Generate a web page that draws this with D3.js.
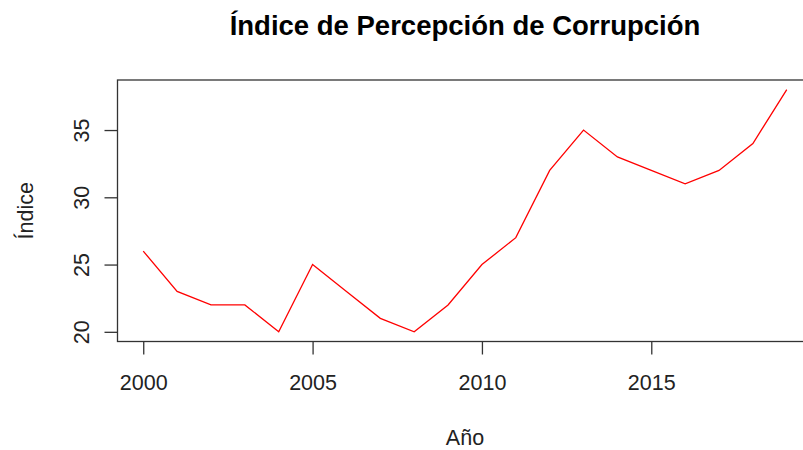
<!DOCTYPE html>
<html>
<head>
<meta charset="utf-8">
<script src="https://cdn.jsdelivr.net/npm/d3@7"></script>
<style>
  body { margin: 0; background: #fff; overflow: hidden; }
  text { font-family: "Liberation Sans", Arial, sans-serif; fill: #222; }
</style>
</head>
<body>
<div id="chart"></div>
<script>
// data
var years = [2000, 2001, 2002, 2003, 2004, 2005, 2006, 2007, 2008, 2009,
             2010, 2011, 2012, 2013, 2014, 2015, 2016, 2017, 2018, 2019];
var indice = [26, 23, 22, 22, 20, 25, 23, 21, 20, 22,
              25, 27, 32, 35, 33, 32, 31, 32, 34, 38];
var xTicks = [2000, 2005, 2010, 2015];
var yTicks = [20, 25, 30, 35];

var svgWidth = 803;
var svgHeight = 450;

// plot box (right edge falls outside the window, like the original)
var box = { left: 117.5, right: 812.5, top: 80, bottom: 341.5 };

var svg = d3.select('#chart')
  .append('svg')
  .attr('width', svgWidth)
  .attr('height', svgHeight);

// R style 4% padding on both axes
var xPad = (d3.max(years) - d3.min(years)) * 0.04;
var yPad = (d3.max(indice) - d3.min(indice)) * 0.04;

var xScale = d3.scaleLinear()
  .domain([d3.min(years) - xPad, d3.max(years) + xPad])
  .range([box.left, box.right]);

var yScale = d3.scaleLinear()
  .domain([d3.min(indice) - yPad, d3.max(indice) + yPad])
  .range([box.bottom, box.top]);

// axes
var bottomAxis = d3.axisBottom(xScale)
  .tickValues(xTicks)
  .tickSize(13)
  .tickPadding(20)
  .tickFormat(d3.format('d'));

var leftAxis = d3.axisLeft(yScale)
  .tickValues(yTicks)
  .tickSize(13)
  .tickFormat(d3.format('d'));

var gx = svg.append('g')
  .attr('transform', `translate(0, ${box.bottom})`)
  .call(bottomAxis);
gx.select('.domain').remove();
gx.selectAll('line').attr('stroke', '#333').attr('stroke-width', 1.3);
gx.selectAll('text')
  .attr('font-size', 21.5)
  .attr('fill', '#222');

var gy = svg.append('g')
  .attr('transform', `translate(${box.left}, 0)`)
  .call(leftAxis);
gy.select('.domain').remove();
gy.selectAll('line').attr('stroke', '#333').attr('stroke-width', 1.3);
// labels parallel to the axis, reading bottom to top
gy.selectAll('text')
  .attr('font-size', 21.5)
  .attr('fill', '#222')
  .attr('text-anchor', 'middle')
  .attr('x', 0)
  .attr('y', 0)
  .attr('dy', 0)
  .attr('transform', 'translate(-29, 0) rotate(-90)');

// box
svg.append('rect')
  .attr('x', box.left)
  .attr('y', box.top)
  .attr('width', box.right - box.left)
  .attr('height', box.bottom - box.top)
  .attr('fill', 'none')
  .attr('stroke', '#333')
  .attr('stroke-width', 1.3);

// line
var line = d3.line()
  .x((d, i) => xScale(years[i]))
  .y(d => yScale(d));

svg.append('path')
  .datum(indice)
  .attr('d', line)
  .attr('fill', 'none')
  .attr('stroke', 'red')
  .attr('stroke-width', 1.3);

// titles
var midX = (box.left + box.right) / 2;

svg.append('text')
  .attr('x', midX)
  .attr('y', 35)
  .attr('text-anchor', 'middle')
  .attr('font-size', 27.5)
  .attr('font-weight', 'bold')
  .style('fill', '#000')
  .text('Índice de Percepción de Corrupción');

svg.append('text')
  .attr('x', midX)
  .attr('y', 445)
  .attr('text-anchor', 'middle')
  .attr('font-size', 21.5)
  .text('Año');

svg.append('text')
  .attr('transform', `translate(33, ${(box.top + box.bottom) / 2}) rotate(-90)`)
  .attr('text-anchor', 'middle')
  .attr('font-size', 21.5)
  .text('Índice');
</script>
</body>
</html>
